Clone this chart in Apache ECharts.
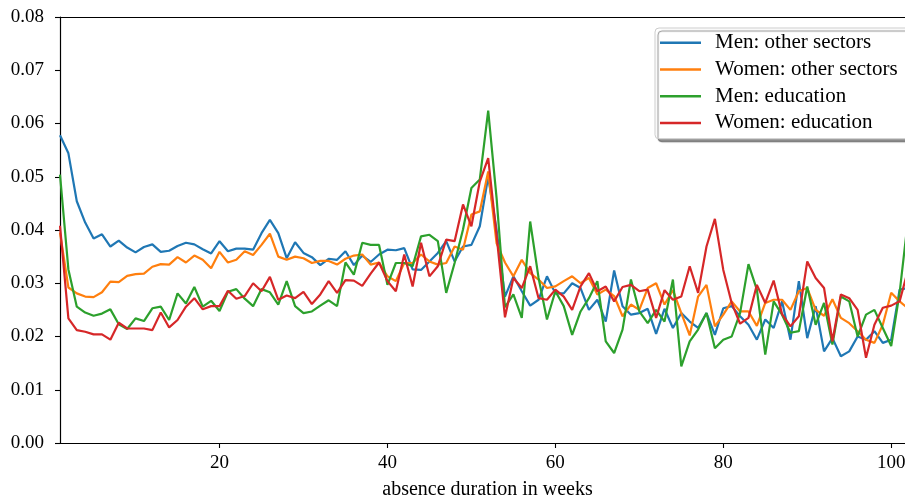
<!DOCTYPE html>
<html>
<head>
<meta charset="utf-8">
<script src="https://cdn.jsdelivr.net/npm/echarts@6/dist/echarts.min.js"></script>
<style>
html,body{margin:0;padding:0;background:#fff;}
#chart{width:905px;height:497px;}
</style>
</head>
<body>
<div id="chart"></div>
<script>
const weeks = Array.from({length: 102}, (_, i) => i + 1);
const xTicks = [20, 40, 60, 80, 100];
const seriesNames = ['Men: other sectors', 'Women: other sectors', 'Men: education', 'Women: education'];

const menOther = [
0.0578,0.0544,0.0454,0.0414,0.0384,0.0392,0.0369,0.0380,0.0367,0.0358,
0.0368,0.0373,0.0359,0.0361,0.0370,0.0376,0.0373,0.0364,0.0356,0.0379,
0.0360,0.0365,0.0365,0.0363,0.0394,0.0419,0.0394,0.0347,0.0377,0.0357,
0.0349,0.0334,0.0346,0.0344,0.0360,0.0334,0.0352,0.0340,0.0354,0.0363,
0.0362,0.0366,0.0326,0.0325,0.0341,0.0357,0.0379,0.0341,0.0369,0.0372,
0.0407,0.0500,0.0400,0.0275,0.0313,0.0285,0.0258,0.0269,0.0313,0.0281,
0.0281,0.0300,0.0291,0.0250,0.0269,0.0228,0.0324,0.0257,0.0241,0.0244,
0.0252,0.0205,0.0252,0.0216,0.0244,0.0228,0.0216,0.0244,0.0203,0.0253,
0.0257,0.0238,0.0222,0.0194,0.0232,0.0216,0.0266,0.0194,0.0304,0.0197,
0.0257,0.0172,0.0197,0.0163,0.0172,0.0200,0.0194,0.0210,0.0188,0.0194,
0.0288,0.0291];

const womenOther = [
0.0395,0.0292,0.0281,0.0275,0.0274,0.0283,0.0303,0.0302,0.0314,0.0317,
0.0318,0.0331,0.0336,0.0335,0.0349,0.0339,0.0352,0.0344,0.0328,0.0359,
0.0339,0.0344,0.0360,0.0353,0.0372,0.0393,0.0350,0.0344,0.0350,0.0347,
0.0338,0.0342,0.0342,0.0335,0.0346,0.0352,0.0354,0.0335,0.0339,0.0313,
0.0304,0.0338,0.0338,0.0354,0.0341,0.0335,0.0338,0.0369,0.0363,0.0429,
0.0435,0.0510,0.0375,0.0339,0.0313,0.0344,0.0319,0.0307,0.0291,0.0294,
0.0304,0.0313,0.0300,0.0310,0.0279,0.0288,0.0276,0.0238,0.0260,0.0250,
0.0291,0.0300,0.0260,0.0287,0.0244,0.0202,0.0275,0.0297,0.0219,0.0241,
0.0266,0.0247,0.0247,0.0220,0.0263,0.0269,0.0269,0.0250,0.0285,0.0291,
0.0250,0.0239,0.0270,0.0235,0.0225,0.0210,0.0194,0.0188,0.0222,0.0282,
0.0266,0.0253];

const menEdu = [
0.0504,0.0326,0.0256,0.0245,0.0239,0.0243,0.0251,0.0223,0.0214,0.0234,
0.0229,0.0253,0.0256,0.0231,0.0281,0.0262,0.0293,0.0256,0.0267,0.0248,
0.0284,0.0289,0.0271,0.0257,0.0289,0.0283,0.0260,0.0304,0.0257,0.0244,
0.0247,0.0258,0.0268,0.0257,0.0339,0.0316,0.0376,0.0372,0.0372,0.0297,
0.0338,0.0338,0.0332,0.0388,0.0391,0.0379,0.0282,0.0338,0.0401,0.0479,
0.0495,0.0624,0.0460,0.0255,0.0279,0.0235,0.0416,0.0310,0.0232,0.0285,
0.0257,0.0203,0.0247,0.0272,0.0304,0.0191,0.0169,0.0213,0.0307,0.0247,
0.0225,0.0250,0.0228,0.0307,0.0144,0.0191,0.0213,0.0244,0.0178,0.0194,
0.0200,0.0244,0.0336,0.0288,0.0166,0.0266,0.0241,0.0207,0.0210,0.0294,
0.0222,0.0263,0.0185,0.0275,0.0266,0.0200,0.0241,0.0250,0.0216,0.0182,
0.0282,0.0420];

const womenEdu = [
0.0408,0.0234,0.0212,0.0209,0.0204,0.0204,0.0194,0.0226,0.0215,0.0215,
0.0215,0.0212,0.0245,0.0217,0.0231,0.0256,0.0272,0.0251,0.0257,0.0257,
0.0286,0.0271,0.0276,0.0300,0.0285,0.0312,0.0269,0.0277,0.0272,0.0284,
0.0261,0.0279,0.0304,0.0282,0.0306,0.0305,0.0295,0.0318,0.0339,0.0304,
0.0285,0.0354,0.0294,0.0376,0.0313,0.0332,0.0382,0.0379,0.0448,0.0407,
0.0491,0.0535,0.0390,0.0236,0.0310,0.0291,0.0332,0.0272,0.0269,0.0288,
0.0275,0.0250,0.0294,0.0319,0.0285,0.0294,0.0266,0.0293,0.0297,0.0285,
0.0288,0.0235,0.0287,0.0269,0.0275,0.0332,0.0282,0.0369,0.0421,0.0325,
0.0263,0.0224,0.0235,0.0297,0.0263,0.0305,0.0242,0.0219,0.0238,0.0341,
0.0310,0.0291,0.0191,0.0279,0.0272,0.0250,0.0160,0.0222,0.0254,0.0258,
0.0266,0.0325];

const colors = ['#1f77b4', '#ff7f0e', '#2ca02c', '#d62728'];
const allSeries = [menOther, womenOther, menEdu, womenEdu];
const FONT = '"Liberation Serif", "DejaVu Serif", serif';

const chart = echarts.init(document.getElementById('chart'), null, {renderer: 'canvas'});
chart.setOption({
  animation: false,
  backgroundColor: '#fff',
  grid: {left: 60, top: 17, right: -3, bottom: 54, outerBoundsMode: 'none', containLabel: false},
  xAxis: [{
    type: 'value', min: 1, max: 102,
    name: 'absence duration in weeks', nameLocation: 'middle', nameGap: 37,
    nameTextStyle: {fontFamily: FONT, fontSize: 20, color: '#000', padding: [0, 0, 0, 7]},
    axisLine: {show: true, lineStyle: {color: '#000', width: 1.2}},
    axisTick: {show: true, length: 5, lineStyle: {color: '#000', width: 1.1}, customValues: xTicks},
    axisLabel: {fontFamily: FONT, fontSize: 19, color: '#000', margin: 11, customValues: xTicks},
    splitLine: {show: false}
  }, {
    type: 'value', min: 1, max: 102, position: 'top',
    axisLine: {show: true, onZero: false, lineStyle: {color: '#000', width: 1.2}},
    axisTick: {show: false}, axisLabel: {show: false}, splitLine: {show: false}
  }],
  yAxis: {
    type: 'value', min: 0, max: 0.08, interval: 0.01,
    axisLine: {show: true, lineStyle: {color: '#000', width: 1.2}},
    axisTick: {show: true, length: 5, lineStyle: {color: '#000', width: 1.1}},
    axisLabel: {fontFamily: FONT, fontSize: 19, color: '#000', margin: 16, formatter: v => v.toFixed(2)},
    splitLine: {show: false}
  },
  legend: {
    orient: 'vertical', left: 655, top: 28,
    padding: [1.5, 14, 2.5, 5], itemGap: 0, itemWidth: 41, itemHeight: 2.5, icon: 'rect',
    textStyle: {fontFamily: FONT, fontSize: 21, color: '#000', lineHeight: 26.7, padding: [0, 0, 0, 9]},
    backgroundColor: '#fff', borderColor: '#cccccc', borderWidth: 1, borderRadius: 4,
    shadowBlur: 1, shadowColor: 'rgba(0,0,0,0.45)', shadowOffsetX: 3, shadowOffsetY: 3,
    data: seriesNames
  },
  series: allSeries.map((vals, i) => ({
    name: seriesNames[i], type: 'line', symbol: 'none', clip: true,
    data: weeks.map((w, j) => [w, vals[j]]),
    lineStyle: {color: colors[i], width: 2.2},
    itemStyle: {color: colors[i]}
  }))
});
</script>
</body>
</html>
